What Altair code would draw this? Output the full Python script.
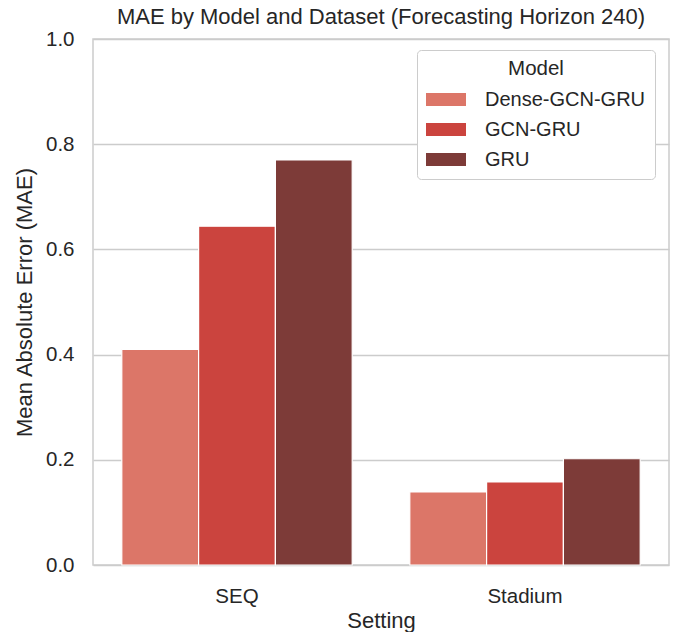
import altair as alt
import pandas as pd

# MAE per setting and model (forecasting horizon 240)
settings = ["SEQ", "Stadium"]
models = ["Dense-GCN-GRU", "GCN-GRU", "GRU"]
seq_mae = [0.41, 0.644, 0.77]
stadium_mae = [0.139, 0.158, 0.202]
palette = ["#dc7668", "#cb443e", "#7d3b38"]
y_ticks = [0.0, 0.2, 0.4, 0.6, 0.8, 1.0]

rows = []
for setting, values in zip(settings, [seq_mae, stadium_mae]):
    for model, v in zip(models, values):
        rows.append({"Setting": setting, "Model": model, "MAE": v})
df = pd.DataFrame(rows)

FONT = "Liberation Sans"
INK = "#262626"
GRID = "#cccccc"

bars = alt.Chart(df).mark_bar(stroke="white", strokeWidth=1.2).encode(
    x=alt.X(
        "Setting:N",
        sort=settings,
        scale=alt.Scale(paddingInner=0.2, paddingOuter=0.1),
        axis=alt.Axis(
            title="Setting",
            labelAngle=0,
            grid=False,
            domain=False,
            ticks=False,
            labelPadding=21,
            titlePadding=4,
        ),
    ),
    xOffset=alt.XOffset("Model:N", sort=models, scale=alt.Scale(paddingInner=0, paddingOuter=0)),
    y=alt.Y(
        "MAE:Q",
        scale=alt.Scale(domain=[0, 1], nice=False),
        axis=alt.Axis(
            title="Mean Absolute Error (MAE)",
            values=y_ticks,
            format=".1f",
            domain=False,
            ticks=False,
            labelPadding=19,
            titlePadding=9,
        ),
    ),
    color=alt.Color(
        "Model:N",
        sort=models,
        scale=alt.Scale(domain=models, range=palette),
        legend=alt.Legend(
            title="Model",
            orient="none",
            legendX=324,
            legendY=11,
            fillColor="white",
            strokeColor=GRID,
            cornerRadius=4,
            padding=9,
            titleAnchor="middle",
            titleFontSize=20.5,
            titleFontWeight="normal",
            titleColor=INK,
            titleFont=FONT,
            titlePadding=0,
            labelFontSize=20,
            labelColor=INK,
            labelFont=FONT,
            labelOffset=19,
            labelLimit=400,
            rowPadding=0,
            symbolType="M-1,-0.32L1,-0.32L1,0.32L-1,0.32Z",
            symbolSize=1600,
            symbolStrokeWidth=0,
            symbolOpacity=1,
        ),
    ),
)

chart = (
    bars.properties(
        width=576,
        height=526,
        background="white",
        title=alt.TitleParams(
            "MAE by Model and Dataset (Forecasting Horizon 240)",
            fontSize=22,
            fontWeight="normal",
            color=INK,
            font=FONT,
            anchor="middle",
            baseline="alphabetic",
            offset=-17,
        ),
        autosize=alt.AutoSizeParams(type="none"),
        padding={"left": 93, "top": 39, "right": 7, "bottom": 67},
    )
    .configure_view(stroke=GRID, strokeWidth=1.5)
    .configure_axis(
        labelFont=FONT,
        titleFont=FONT,
        labelFontSize=20.5,
        titleFontSize=22,
        labelColor=INK,
        titleColor=INK,
        titleFontWeight="normal",
        gridColor=GRID,
        gridWidth=1.3,
    )
)

chart.save("out.html", embed_options={"renderer": "svg", "actions": False})
